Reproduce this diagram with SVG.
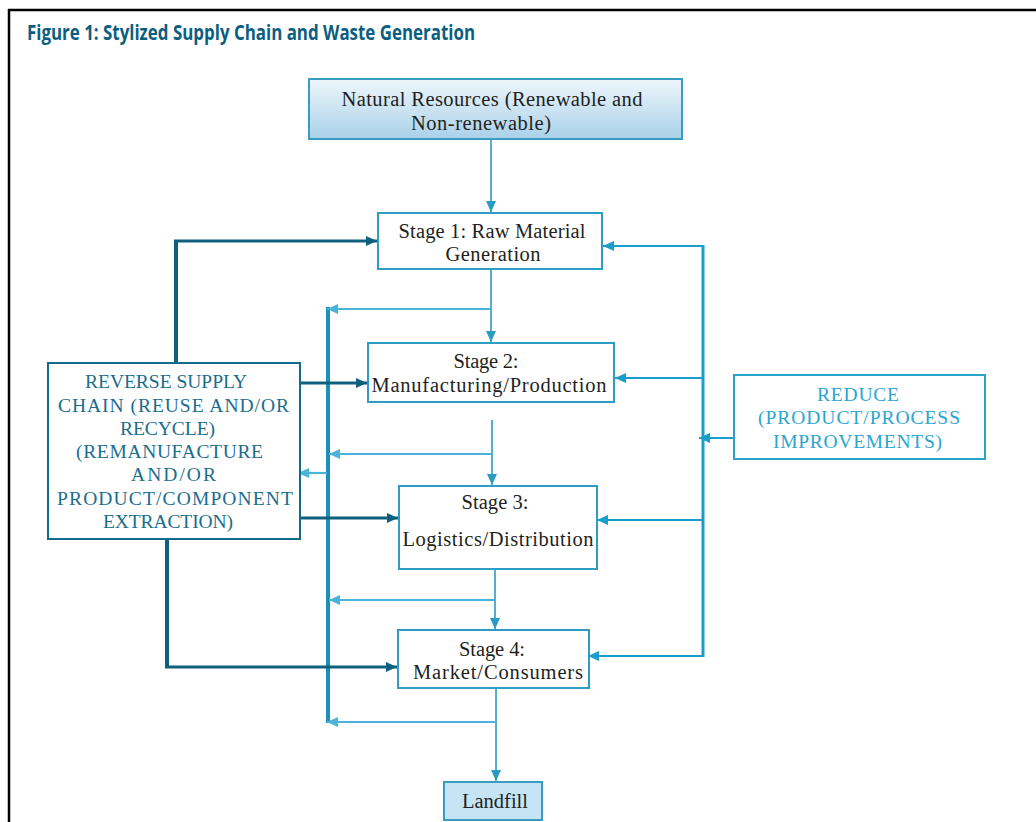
<svg xmlns="http://www.w3.org/2000/svg" width="1036" height="822" viewBox="0 0 1036 822">
<defs>
<linearGradient id="gNR" x1="0" y1="0" x2="0" y2="1">
<stop offset="0" stop-color="#eef6fb"/>
<stop offset="1" stop-color="#a9d1ea"/>
</linearGradient>
<marker id="mBlue" markerUnits="userSpaceOnUse" markerWidth="12" markerHeight="10" refX="11" refY="5" orient="auto"><path d="M0,0 L11,5 L0,10 z" fill="#2a9cc4"/></marker>
<marker id="mLight" markerUnits="userSpaceOnUse" markerWidth="12" markerHeight="10" refX="11" refY="5" orient="auto"><path d="M0,0 L11,5 L0,10 z" fill="#4ab3da"/></marker>
<marker id="mDark" markerUnits="userSpaceOnUse" markerWidth="12" markerHeight="10" refX="11" refY="5" orient="auto"><path d="M0,0 L11,5 L0,10 z" fill="#0f5f7e"/></marker>
<marker id="mRed" markerUnits="userSpaceOnUse" markerWidth="12" markerHeight="10" refX="11" refY="5" orient="auto"><path d="M0,0 L11,5 L0,10 z" fill="#1b9dcc"/></marker>
</defs>
<style>
.box{fill:#fff;stroke:#2f9cc4;stroke-width:2}
.st{font-family:"Liberation Serif",serif;font-size:20.5px;fill:#231f20;text-anchor:middle}
.rv{font-family:"Liberation Serif",serif;font-size:19.5px;fill:#1a6d8c;text-anchor:middle}
.rd{font-family:"Liberation Serif",serif;font-size:19.5px;fill:#2aa5d2;text-anchor:middle}
.down{stroke:#2a9cc4;stroke-width:1.6;fill:none;marker-end:url(#mBlue)}
.waste{stroke:#4ab3da;stroke-width:2.2;fill:none;marker-end:url(#mLight)}
.dark{stroke:#0f5f7e;stroke-width:2.8;fill:none;marker-end:url(#mDark)}
.darkv{stroke:#0f5f7e;stroke-width:4;fill:none}
.red{stroke:#1b9dcc;stroke-width:2;fill:none;marker-end:url(#mRed)}
</style>
<rect width="1036" height="822" fill="#fff"/>
<g id="frame">
<line x1="8" y1="10" x2="1036" y2="10" stroke="#000" stroke-width="2.5"/>
<line x1="9" y1="9" x2="9" y2="822" stroke="#000" stroke-width="2.5"/>
<text x="27" y="40" font-family="'Open Sans',sans-serif" font-weight="bold" font-size="20.5" fill="#0b5e7f" textLength="448" lengthAdjust="spacingAndGlyphs">Figure 1: Stylized Supply Chain and Waste Generation</text>
</g>
<g id="connectors">
<line class="down" x1="491" y1="139" x2="491" y2="212"/>
<line class="down" x1="491" y1="269" x2="491" y2="342"/>
<line class="down" x1="492" y1="420" x2="492" y2="485"/>
<line class="down" x1="495" y1="563" x2="495" y2="629"/>
<line class="down" x1="496" y1="682" x2="496" y2="781"/>
<line x1="328" y1="307" x2="328" y2="723" stroke="#1a8fb8" stroke-width="4"/>
<line class="waste" x1="491" y1="309" x2="327" y2="309"/>
<line class="waste" x1="492" y1="454" x2="329" y2="454"/>
<line class="waste" x1="495" y1="600" x2="329" y2="600"/>
<line class="waste" x1="496" y1="722" x2="327" y2="722"/>
<line class="waste" x1="327" y1="473" x2="298" y2="473"/>
<path class="darkv" d="M176,362 L176,240"/>
<path class="dark" d="M174,241 L377,241"/>
<line class="dark" x1="300" y1="383" x2="367" y2="383"/>
<line class="dark" x1="300" y1="518" x2="398" y2="518"/>
<path class="darkv" d="M167,540 L167,668"/>
<path class="dark" d="M165,667 L397,667"/>
<line x1="703" y1="245" x2="703" y2="657" stroke="#1b9dcc" stroke-width="3"/>
<line class="red" x1="703" y1="246" x2="603" y2="246"/>
<line class="red" x1="703" y1="378" x2="615" y2="378"/>
<line class="red" x1="734" y1="438" x2="699" y2="438"/>
<line class="red" x1="703" y1="520" x2="597" y2="520"/>
<line class="red" x1="703" y1="656" x2="588" y2="656"/>
</g>
<g id="natural-resources">
<rect x="309" y="79" width="373" height="60" fill="url(#gNR)" stroke="#3a9cc0" stroke-width="2"/>
<text class="st" x="492" y="106" textLength="301">Natural Resources (Renewable and</text>
<text class="st" x="481" y="130" textLength="140">Non-renewable)</text>
</g>
<g id="stage1">
<rect class="box" x="378" y="213" width="224" height="56"/>
<text class="st" x="492" y="238" textLength="187">Stage 1: Raw Material</text>
<text class="st" x="493" y="261" textLength="95">Generation</text>
</g>
<g id="stage2">
<rect class="box" x="368" y="343" width="246" height="59"/>
<text class="st" x="486" y="368" textLength="65">Stage 2:</text>
<text class="st" x="489" y="392" textLength="235">Manufacturing/Production</text>
</g>
<g id="stage3">
<rect class="box" x="399" y="486" width="198" height="83"/>
<text class="st" x="495" y="509" textLength="67">Stage 3:</text>
<text class="st" x="498" y="546" textLength="191">Logistics/Distribution</text>
</g>
<g id="stage4">
<rect class="box" x="398" y="630" width="191" height="58"/>
<text class="st" x="492" y="656" textLength="66">Stage 4:</text>
<text class="st" x="498" y="679" textLength="170">Market/Consumers</text>
</g>
<g id="landfill">
<rect x="444" y="782" width="98" height="38" fill="#c5e5f5" stroke="#3a9cc0" stroke-width="2"/>
<text class="st" x="495" y="808" textLength="66">Landfill</text>
</g>
<g id="reverse">
<rect x="48" y="363" width="252" height="176" fill="#fff" stroke="#136a8a" stroke-width="2"/>
<text class="rv" x="166" y="388" textLength="162">REVERSE SUPPLY</text>
<text class="rv" x="173.5" y="412" textLength="231">CHAIN (REUSE AND/OR</text>
<text class="rv" x="167.5" y="435" textLength="95">RECYCLE)</text>
<text class="rv" x="169.5" y="458" textLength="187">(REMANUFACTURE</text>
<text class="rv" x="173.5" y="481" textLength="85">AND/OR</text>
<text class="rv" x="175" y="505" textLength="236">PRODUCT/COMPONENT</text>
<text class="rv" x="168" y="528" textLength="130">EXTRACTION)</text>
</g>
<g id="reduce">
<rect x="734" y="375" width="251" height="84" fill="#fff" stroke="#2aa3cc" stroke-width="2"/>
<text class="rd" x="858" y="401" textLength="82">REDUCE</text>
<text class="rd" x="859" y="424" textLength="202">(PRODUCT/PROCESS</text>
<text class="rd" x="857.5" y="448" textLength="169">IMPROVEMENTS)</text>
</g>
</svg>
